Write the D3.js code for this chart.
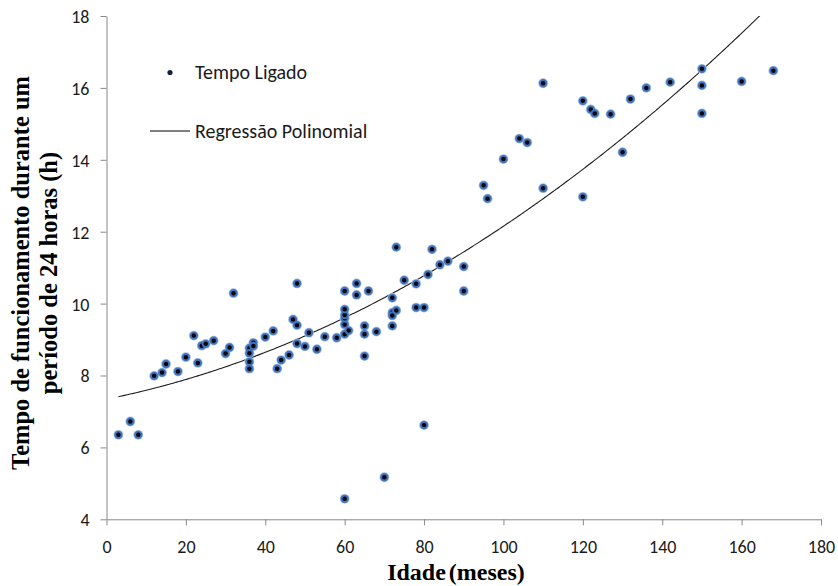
<!DOCTYPE html>
<html>
<head>
<meta charset="utf-8">
<script src="https://cdn.jsdelivr.net/npm/d3@7"></script>
<style>
  body { margin: 0; background: #fff; }
  svg { display: block; }
</style>
</head>
<body>
<div id="plot"></div>
<script>
// Idade (meses) e tempo ligado (h)
const ages = [3, 6, 8, 12, 14, 15, 18, 20, 22, 23, 24, 25, 27, 30, 31, 32,
    36, 36, 36, 36, 37, 37, 40, 42, 43, 44, 46, 47, 48, 48, 48, 50, 51, 53, 55, 58,
    60, 61, 60, 60, 60, 60, 60, 63, 63, 66, 65, 65, 68, 65,
    72, 72, 73, 72, 72, 73, 75, 78, 78, 80, 81, 82, 84, 86, 90, 90,
    80, 70, 60, 95, 96, 100, 104, 106, 110, 110, 120, 122, 123, 127, 130, 120,
    132, 136, 142, 150, 150, 150, 160, 168];
const hours = [6.35, 6.72, 6.35, 7.99, 8.08, 8.32, 8.11, 8.51, 9.11, 8.35, 8.83, 8.88, 8.97, 8.61, 8.78, 10.29,
    8.76, 8.62, 8.38, 8.19, 8.91, 8.82, 9.07, 9.24, 8.19, 8.43, 8.57, 9.56, 9.40, 8.89, 10.56, 8.81, 9.19, 8.73, 9.08, 9.05,
    9.15, 9.25, 9.42, 9.59, 9.68, 9.84, 10.35, 10.56, 10.24, 10.35, 9.38, 9.15, 9.22, 8.54,
    10.16, 9.75, 9.81, 9.67, 9.38, 11.57, 10.65, 10.55, 9.89, 9.89, 10.81, 11.51, 11.08, 11.18, 11.03, 10.35,
    6.62, 5.17, 4.57, 13.29, 12.92, 14.02, 14.59, 14.48, 16.13, 13.21, 15.64, 15.40, 15.29, 15.27, 14.21, 12.97,
    15.69, 16.0, 16.16, 16.53, 16.07, 15.29, 16.18, 16.48];

// coeficientes da regressão polinomial (a + b*x + c*x^2)
const trendCoef = [7.341, 0.02225, 0.0002586];

const xTicks = [0, 20, 40, 60, 80, 100, 120, 140, 160, 180];
const yTicks = [4, 6, 8, 10, 12, 14, 16, 18];

const width = 838, height = 586;
const plotLeft = 106.5, plotRight = 821, plotTop = 16, plotBottom = 519.3;

const svg = d3.select("#plot").append("svg")
    .attr("width", width)
    .attr("height", height);

const x = d3.scaleLinear().domain([0, 180]).range([plotLeft, plotRight]);
const y = d3.scaleLinear().domain([4, 18]).range([plotBottom, plotTop]);

const axisColor = "#898989";
const labelFont = "Calibri, Carlito, 'Open Sans', sans-serif";

// x axis
const gx = svg.append("g")
    .attr("transform", `translate(0,${plotBottom})`)
    .call(d3.axisBottom(x).tickValues(xTicks).tickSize(6).tickSizeOuter(0));
gx.select(".domain").attr("stroke", axisColor);
gx.selectAll(".tick line").attr("stroke", axisColor);
gx.selectAll(".tick text")
    .attr("y", 34).attr("dy", 0)
    .attr("fill", "#1a1a1a")
    .style("font-family", labelFont)
    .style("font-size", "18px");

// y axis
const gy = svg.append("g")
    .attr("transform", `translate(${plotLeft},0)`)
    .call(d3.axisLeft(y).tickValues(yTicks).tickSize(6).tickSizeOuter(0));
gy.select(".domain").attr("stroke", axisColor);
gy.selectAll(".tick line").attr("stroke", axisColor);
gy.selectAll(".tick text")
    .attr("x", -17).attr("dy", "0.36em")
    .attr("fill", "#1a1a1a")
    .style("font-family", labelFont)
    .style("font-size", "18px");

// regression curve, clipped at plot area
svg.append("clipPath").attr("id", "clip")
    .append("rect")
    .attr("x", plotLeft).attr("y", plotTop)
    .attr("width", plotRight - plotLeft).attr("height", plotBottom - plotTop);

const trend = d3.range(d3.min(ages), d3.max(ages) + 0.5, 0.5).map(a => [a,
    trendCoef[0] + trendCoef[1] * a + trendCoef[2] * a * a]);

svg.append("path")
    .datum(trend)
    .attr("clip-path", "url(#clip)")
    .attr("fill", "none")
    .attr("stroke", "#1e1e1e")
    .attr("stroke-width", 1.1)
    .attr("d", d3.line().x(d => x(d[0])).y(d => y(d[1])).curve(d3.curveMonotoneX));

// points
const pts = ages.map((a, i) => ({age: a, h: hours[i]}));

svg.selectAll("circle.halo").data(pts).enter().append("circle")
    .attr("class", "halo")
    .attr("cx", d => x(d.age))
    .attr("cy", d => y(d.h))
    .attr("r", 4.9)
    .attr("fill", "#a3bfe4");

svg.selectAll("circle.dot").data(pts).enter().append("circle")
    .attr("class", "dot")
    .attr("cx", d => x(d.age))
    .attr("cy", d => y(d.h))
    .attr("r", 3.2)
    .attr("fill", "#05050f")
    .attr("stroke", "#4274ba")
    .attr("stroke-width", 1.9);

// legend
svg.append("circle")
    .attr("cx", 170).attr("cy", 72.5).attr("r", 2.6)
    .attr("fill", "#13213f");
svg.append("text")
    .attr("x", 195).attr("y", 79)
    .attr("fill", "#1a1a1a")
    .style("font-family", labelFont)
    .style("font-size", "20px")
    .text("Tempo Ligado");

svg.append("line")
    .attr("x1", 150).attr("x2", 190)
    .attr("y1", 131).attr("y2", 131)
    .attr("stroke", "#000").attr("stroke-width", 1);
svg.append("text")
    .attr("x", 195).attr("y", 138)
    .attr("fill", "#1a1a1a")
    .style("font-family", labelFont)
    .style("font-size", "20px")
    .text("Regressão Polinomial");

// axis titles
const titleFont = "'Times New Roman', 'Liberation Serif', serif";

svg.append("text")
    .attr("x", 456).attr("y", 580)
    .attr("text-anchor", "middle")
    .style("font-family", titleFont)
    .style("font-weight", "bold")
    .style("font-size", "24px")
    .style("word-spacing", "-3px")
    .text("Idade (meses)");

const yTitle = svg.append("text")
    .attr("transform", "translate(0,273) rotate(-90)")
    .attr("text-anchor", "middle")
    .style("font-family", titleFont)
    .style("font-weight", "bold")
    .style("font-size", "24.5px");
yTitle.append("tspan").attr("x", 0).attr("y", 28.5).text("Tempo de funcionamento durante um");
yTitle.append("tspan").attr("x", 0).attr("y", 57).text("período de 24 horas (h)");
</script>
</body>
</html>
